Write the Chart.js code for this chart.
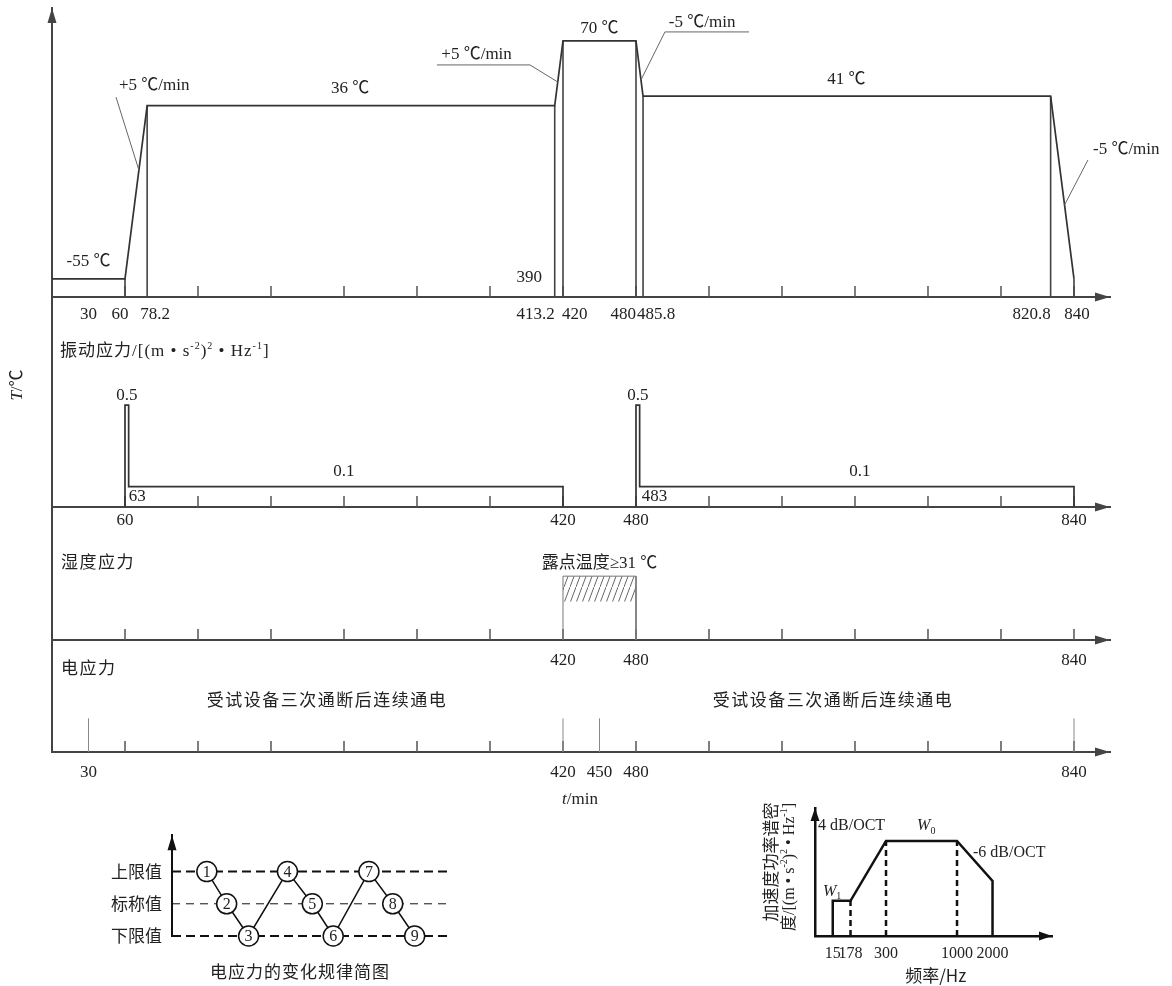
<!DOCTYPE html>
<html><head><meta charset="utf-8">
<script src="https://cdn.jsdelivr.net/npm/chart.js@4.4.1/dist/chart.umd.min.js"></script>
<style>
html,body{margin:0;padding:0;background:#fff;}
body{width:1172px;height:986px;position:relative;overflow:hidden;}
canvas{position:absolute;display:block;}
</style></head><body>
<canvas id="cA" width="1172" height="330" style="left:0;top:0"></canvas>
<canvas id="cB" width="1172" height="240" style="left:0;top:297px"></canvas>
<canvas id="cC" width="1172" height="163" style="left:0;top:507px"></canvas>
<canvas id="cD" width="1172" height="175" style="left:0;top:640px"></canvas>
<canvas id="cE" width="360" height="170" style="left:100px;top:815px"></canvas>
<canvas id="cF" width="340" height="191" style="left:740px;top:795px"></canvas>
<script>
// ---------------- DATA ----------------
// Temperature profile (time in min, temperature in ℃)
const tempTimes  = [0, 60, 78.2, 413.2, 420, 480, 485.8, 820.8, 840];
const tempValues = [-55, -55, 36, 36, 70, 70, 41, 41, -55];
const tempTickValues = [30, 60, 78.2, 413.2, 420, 480, 485.8, 820.8, 840];
const tempTickLabels = ['30', '60', '78.2', '413.2', '420', '480', '485.8', '820.8', '840'];
const hourMarks = [60, 120, 180, 240, 300, 360, 420, 480, 540, 600, 660, 720, 780, 840];

// Vibration stress (PSD level)
const vibTimesA = [60, 60, 63, 63, 420, 420];
const vibTimesB = [480, 480, 483, 483, 840, 840];
const vibValues = [0, 0.5, 0.5, 0.1, 0.1, 0];
const vibTickValues = [60, 420, 480, 840];

// Humidity stress (schematic level)
const humTimes = [420, 420, 480, 480];
const humValues = [0, 0.48, 0.48, 0];
const humHatchBottom = 0.29;
const humTickValues = [420, 480, 840];

// Electrical stress events
const elecEventTimes = [30, 420, 450, 840];
const elecEventHeight = 0.3;
const elecTickValues = [30, 420, 450, 480, 840];

// Electrical stress variation sketch
const elecSteps = ['1', '2', '3', '4', '5', '6', '7', '8', '9'];
const elecStepPos = [1, 1.95, 3, 4.86, 6.05, 7.05, 8.76, 9.9, 10.95];
const elecStepLevel = [2, 1, 0, 2, 1, 0, 2, 1, 0];
const elecLevels = [0, 1, 2];
const elecLevelNames = ['下限值', '标称值', '上限值'];

// Random vibration PSD sketch
const psdFreqLabels = ['15', '178', '300', '1000', '2000'];
const psdPos = [1, 2, 4, 8, 10];
const psdLevels = [0.37, 0.37, 1, 1, 0.58];

// ---------------- STYLE / HELPERS ----------------
const SERIF = '"Liberation Serif","Noto Sans CJK SC",serif';
const CJK = '"Noto Sans CJK SC","Liberation Serif",sans-serif';
const AX = '#444', INK = '#333', TXT = '#222';
const DECO = {};

function drawRich(ctx, t, px, py) {
  const size = t.size || 17;
  const parts = typeof t.text === 'string' ? [{t: t.text}] : t.text;
  const fam = t.family || SERIF;
  const fontFor = p => (p.i ? 'italic ' : '') + Math.round(size * (p.s || 1)) + 'px ' + fam;
  ctx.save();
  ctx.translate(px, py);
  if (t.rot) ctx.rotate(t.rot * Math.PI / 180);
  ctx.fillStyle = t.color || TXT;
  ctx.textBaseline = 'middle';
  ctx.textAlign = 'left';
  if ('letterSpacing' in ctx) ctx.letterSpacing = (t.ls || 0) + 'px';
  let w = 0;
  const ws = parts.map(p => { ctx.font = fontFor(p); const m = ctx.measureText(p.t).width; w += m; return m; });
  let x = t.align === 'left' ? 0 : t.align === 'right' ? -w : -w / 2;
  parts.forEach((p, i) => { ctx.font = fontFor(p); ctx.fillText(p.t, x, p.dy || 0); x += ws[i]; });
  ctx.restore();
}

const decoPlugin = {
  id: 'deco',
  beforeDatasetsDraw(chart) {
    const o = DECO[chart.canvas.id]; if (!o || !o.marks) return;
    const ctx = chart.ctx, a = chart.chartArea, xs = chart.scales.x;
    ctx.save(); ctx.strokeStyle = '#555'; ctx.lineWidth = 1.5; ctx.beginPath();
    o.marks.forEach(v => { const x = xs.getPixelForValue(v); ctx.moveTo(x, a.bottom); ctx.lineTo(x, a.bottom - 11); });
    ctx.stroke(); ctx.restore();
  },
  afterDatasetsDraw(chart) {
    const o = DECO[chart.canvas.id]; if (!o) return;
    const ctx = chart.ctx, a = chart.chartArea, xs = chart.scales.x, ys = chart.scales.y;
    const P = (x, y, dx, dy) => [xs.getPixelForValue(x) + (dx || 0), ys.getPixelForValue(y) + (dy || 0)];
    ctx.save();
    ctx.fillStyle = o.arrowColor || AX;
    const al = o.arrowLen || 15, aw = o.arrowHalf || 4.5;
    if (o.arrowX) { const y = a.bottom; ctx.beginPath(); ctx.moveTo(a.right, y); ctx.lineTo(a.right - al, y - aw); ctx.lineTo(a.right - al, y + aw); ctx.closePath(); ctx.fill(); }
    if (o.arrowY) { const x = a.left; ctx.beginPath(); ctx.moveTo(x, a.top); ctx.lineTo(x - aw, a.top + al); ctx.lineTo(x + aw, a.top + al); ctx.closePath(); ctx.fill(); }
    (o.lines || []).forEach(l => {
      ctx.strokeStyle = l.color || '#666'; ctx.lineWidth = l.w || 1; ctx.beginPath();
      l.pts.forEach((p, i) => { const q = P(p[0], p[1], p[2], p[3]); if (i) ctx.lineTo(q[0], q[1]); else ctx.moveTo(q[0], q[1]); });
      ctx.stroke();
    });
    if (o.xlabels) {
      const L = o.xlabels;
      L.values.forEach((v, i) => {
        drawRich(ctx, {text: L.labels[i], align: (L.align && L.align[i]) || 'center', size: L.size || 17},
          xs.getPixelForValue(v) + ((L.dx && L.dx[i]) || 0), a.bottom + L.dy);
      });
    }
    (o.texts || []).forEach(t => {
      let px, py;
      if (t.cx !== undefined) { px = t.cx; py = t.cy; } else { [px, py] = P(t.x, t.y, t.dx, t.dy); }
      drawRich(ctx, t, px, py);
    });
    ctx.restore();
  }
};

function line(pts, color, width, extra) {
  return Object.assign({data: pts, borderColor: color, borderWidth: width, pointRadius: 0, fill: false, clip: false, tension: 0}, extra || {});
}
function pts(xs, ys) { return xs.map((x, i) => ({x: x, y: ys[i]})); }

function xAxis(min, max, height, o) {
  o = o || {};
  const ticks = {display: !!o.ticks, autoSkip: false, maxRotation: 0, minRotation: 0, padding: o.pad || 0, color: TXT,
                 font: {family: o.family || SERIF, size: o.size || 17}};
  if (o.cb) ticks.callback = o.cb;
  return {type: 'linear', min: min, max: max, display: o.hidden ? false : true,
    grid: {display: false, drawTicks: false},
    border: {display: true, color: o.color || AX, width: o.bw || 2},
    afterBuildTicks: s => { s.ticks = (o.ticks || []).map(v => ({value: v})); },
    ticks: ticks,
    afterFit: s => { s.height = height; }};
}
function yAxis(min, max, width, o) {
  o = o || {};
  const ticks = {display: !!o.ticks, padding: o.pad || 0, color: TXT, font: {family: o.family || CJK, size: o.size || 17}};
  if (o.cb) ticks.callback = o.cb;
  return {type: 'linear', min: min, max: max, display: true,
    grid: {display: false, drawTicks: false},
    border: {display: true, color: o.color || AX, width: o.bw || 2},
    afterBuildTicks: s => { s.ticks = (o.ticks || []).map(v => ({value: v})); },
    ticks: ticks,
    afterFit: s => { s.width = width; }};
}
function mkChart(id, datasets, pad, x, y) {
  return new Chart(document.getElementById(id), {
    type: 'line',
    data: {datasets: datasets},
    options: {
      responsive: false, animation: false, devicePixelRatio: 1, events: [],
      layout: {padding: pad},
      plugins: {legend: {display: false}, tooltip: {enabled: false}},
      scales: {x: x, y: y}
    },
    plugins: [decoPlugin]
  });
}

const TMIN = 0, TMAX = 869.6;          // time axis range
const TEMP_MIN = -64.5, TEMP_MAX = 87.3;

// ---------------- A: temperature ----------------
DECO.cA = {
  arrowX: true, arrowY: true, marks: hourMarks,
  xlabels: {values: tempTickValues, labels: tempTickLabels, dy: 18,
            align: ['center', 'center', 'center', 'right', 'left', 'right', 'left', 'right', 'center'],
            dx: [0, -5, 8, 0, -1, 0, -6, 0, 3]},
  lines: [
    {pts: [[52.6, 40.5], [71.4, 2.2]]},
    {pts: [[316.4, 70, 0, 24], [392.9, 70, 0, 24], [415.7, 48.4]]},
    {pts: [[572.9, 70, 0, -9], [503.8, 70, 0, -9], [484.1, 49.5]]},
    {pts: [[851.5, 7.5], [832.2, -16.2]]}
  ],
  texts: [
    {x: 30, y: -55, dy: -17, text: '-55 ℃'},
    {x: 245, y: 36, dy: -17, text: '36 ℃'},
    {x: 450, y: 70, dy: -12, text: '70 ℃'},
    {x: 653, y: 41, dy: -17, text: '41 ℃'},
    {x: 402.7, y: TEMP_MIN, dy: -19, text: '390', align: 'right'},
    {x: 55, y: 36, dy: -20, text: '+5 ℃/min', align: 'left'},
    {x: 320, y: 70, dy: 14, text: '+5 ℃/min', align: 'left'},
    {x: 507, y: 70, dy: -18, text: '-5 ℃/min', align: 'left'},
    {x: 855.6, y: 12.7, text: '-5 ℃/min', align: 'left'}
  ]
};
const tempDatasets = [line(pts(tempTimes, tempValues), INK, 1.7)];
tempTimes.slice(1).forEach((t, i) => {
  tempDatasets.push(line([{x: t, y: tempValues[i + 1]}, {x: t, y: TEMP_MIN}], '#444', 1.6));
});
mkChart('cA', tempDatasets, {left: 52, right: 62, top: 8, bottom: 0},
  xAxis(TMIN, TMAX, 33), yAxis(TEMP_MIN, TEMP_MAX, 0));

// ---------------- B: vibration ----------------
DECO.cB = {
  arrowX: true, marks: hourMarks,
  texts: [
    {cx: 60, cy: 55, align: 'left', ls: 1, text: [
      {t: '振动应力/[(m • s'}, {t: '-2', s: 0.6, dy: -6}, {t: ')'}, {t: '2', s: 0.6, dy: -6},
      {t: ' • Hz'}, {t: '-1', s: 0.6, dy: -6}, {t: ']'}]},
    {cx: 18, cy: 88, rot: -90, text: [{t: 'T', i: true}, {t: '/℃'}]},
    {x: 61.5, y: 0.5, dy: -10, text: '0.5'},
    {x: 481.5, y: 0.5, dy: -10, text: '0.5'},
    {x: 240, y: 0.1, dy: -15, text: '0.1'},
    {x: 664, y: 0.1, dy: -15, text: '0.1'},
    {x: 63, y: 0, dy: -10, dx: 0, text: '63', align: 'left'},
    {x: 483, y: 0, dy: -10, dx: 2, text: '483', align: 'left'}
  ]
};
mkChart('cB', [line(pts(vibTimesA, vibValues), INK, 1.7), line(pts(vibTimesB, vibValues), INK, 1.7)],
  {left: 52, right: 62, top: 0, bottom: 0},
  xAxis(TMIN, TMAX, 30, {ticks: vibTickValues, pad: 3}), yAxis(0, 1.03, 0));

// ---------------- C: humidity ----------------
function hatchPattern() {
  const c = document.createElement('canvas'); c.width = 6; c.height = 16;
  const g = c.getContext('2d');
  g.strokeStyle = '#666'; g.lineWidth = 1;
  g.beginPath(); g.moveTo(0, 16); g.lineTo(6, 0); g.stroke();
  return g.createPattern(c, 'repeat');
}
DECO.cC = {
  arrowX: true, marks: hourMarks,
  texts: [
    {cx: 61, cy: 55, align: 'left', family: CJK, ls: 1.5, text: '湿度应力'},
    {x: 450, y: humValues[1], dy: -13, text: '露点温度≥31 ℃'}
  ]
};
mkChart('cC', [
    line(pts(humTimes, humValues), '#777', 1),
    line([{x: humTimes[0], y: humValues[1]}, {x: humTimes[3], y: humValues[2]}], 'rgba(0,0,0,0)', 0,
      {fill: {value: humHatchBottom}, backgroundColor: hatchPattern()})
  ],
  {left: 52, right: 62, top: 0, bottom: 0},
  xAxis(TMIN, TMAX, 30, {ticks: humTickValues, pad: 10}), yAxis(0, 1, 0));

// ---------------- D: electrical ----------------
DECO.cD = {
  arrowX: true, marks: hourMarks,
  texts: [
    {cx: 61, cy: 28, align: 'left', family: CJK, ls: 1.5, text: '电应力'},
    {x: 226, y: 0, dy: -52, family: CJK, ls: 1.5, text: '受试设备三次通断后连续通电'},
    {x: 642, y: 0, dy: -52, family: CJK, ls: 1.5, text: '受试设备三次通断后连续通电'},
    {x: 434, y: 0, dy: 48, text: [{t: 't', i: true}, {t: '/min'}]}
  ]
};
mkChart('cD', elecEventTimes.map(t => line([{x: t, y: 0}, {x: t, y: elecEventHeight}], '#888', 1)),
  {left: 52, right: 62, top: 0, bottom: 0},
  xAxis(TMIN, TMAX, 63, {ticks: elecTickValues, pad: 10}), yAxis(0, 1, 0));

// ---------------- E: electrical stress variation sketch ----------------
const E_XMIN = -0.667, E_XMAX = 12.57;
DECO.cE = {
  arrowY: true, arrowColor: '#111', arrowLen: 15, arrowHalf: 4.5,
  texts: elecSteps.map((s, i) => ({x: elecStepPos[i], y: elecStepLevel[i], dy: 1, size: 16, text: s}))
    .concat([{cx: 200, cy: 157, family: CJK, ls: 1, text: '电应力的变化规律简图'}])
};
// the step profile first so that it is drawn on top of the dashed level lines
const eDatasets = [line(pts(elecStepPos, elecStepLevel), '#111', 1.5,
  {pointRadius: 10, pointBackgroundColor: '#fff', pointBorderColor: '#111', pointBorderWidth: 1.5})];
elecLevels.forEach(l => eDatasets.push(line([{x: E_XMIN, y: l}, {x: E_XMAX, y: l}], '#111', l === 1 ? 1 : 2,
  {borderDash: l === 1 ? [8, 6] : [9, 5]})));
mkChart('cE', eDatasets, {left: 8, right: 10, top: 10, bottom: 49},
  xAxis(E_XMIN, E_XMAX, 0, {hidden: true}),
  yAxis(0, 3.13, 64, {ticks: elecLevels, pad: 10, color: '#111', cb: v => elecLevelNames[v]}));

// ---------------- F: PSD sketch ----------------
DECO.cF = {
  arrowX: true, arrowY: true, arrowColor: '#111', arrowLen: 13, arrowHalf: 4.5,
  texts: [
    {x: 0.17, y: psdLevels[2], dy: -15, size: 16, align: 'left', text: '4 dB/OCT'},
    {x: 5.75, y: psdLevels[2], dy: -15, size: 16, align: 'left', text: [{t: 'W', i: true}, {t: '0', s: 0.65, dy: 5}]},
    {x: 8.9, y: psdLevels[3], dy: 12, size: 16, align: 'left', text: '-6 dB/OCT'},
    {x: 0.45, y: psdLevels[0], dy: -9, size: 16, align: 'left', text: [{t: 'W', i: true}, {t: '1', s: 0.65, dy: 5}]},
    {x: 6.8, y: 0, dy: 40, size: 17, family: CJK, text: '频率/Hz'},
    {cx: 31, cy: 67, rot: -90, size: 17, family: CJK, text: '加速度功率谱密'},
    {cx: 50, cy: 72, rot: -90, size: 16, text: [
      {t: '度/[(m • s'}, {t: '-2', s: 0.6, dy: -6}, {t: ')'}, {t: '2', s: 0.6, dy: -6},
      {t: ' • Hz'}, {t: '-1', s: 0.6, dy: -6}, {t: ']'}]}
  ]
};
const psdPath = [{x: psdPos[0], y: 0}].concat(pts(psdPos, psdLevels)).concat([{x: psdPos[psdPos.length - 1], y: 0}]);
const fDatasets = [line(psdPath, '#111', 2.5)];
[1, 2, 3].forEach(i => fDatasets.push(line([{x: psdPos[i], y: 0}, {x: psdPos[i], y: psdLevels[i]}], '#111', 2.5, {borderDash: [6, 4]})));
mkChart('cF', fDatasets, {left: 75, right: 28, top: 13, bottom: 0},
  xAxis(0, 13.35, 50, {ticks: psdPos, pad: 8, size: 16, color: '#111', bw: 2.5, cb: (v, i) => psdFreqLabels[i]}),
  yAxis(0, 1.347, 0, {color: '#111', bw: 2.5}));
</script>
</body></html>
